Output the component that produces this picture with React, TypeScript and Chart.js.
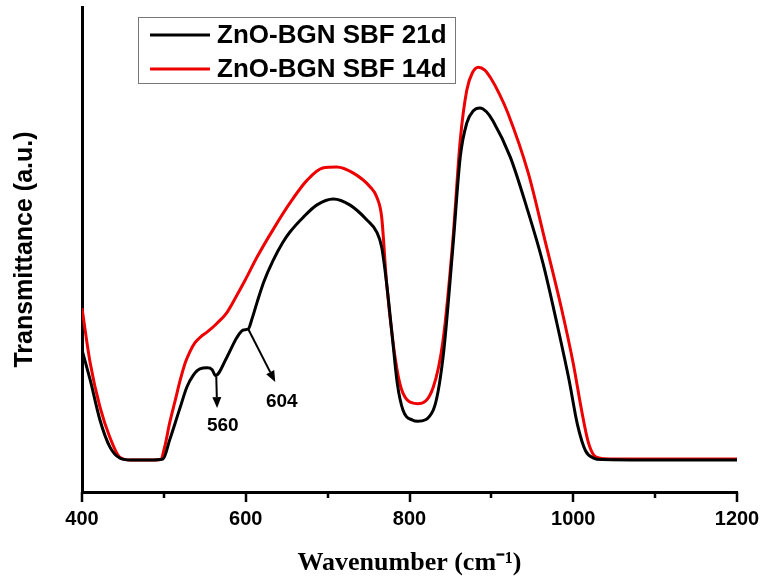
import React, { useEffect, useRef } from 'react';
import { Chart, registerables } from 'chart.js';

Chart.register(...registerables);

const seriesLabels = ['ZnO-BGN SBF 21d', 'ZnO-BGN SBF 14d'];
const seriesColors = ['#000000', '#ee0000'];

const wavenumbers21 = [400, 410, 422, 434, 446, 459, 483, 499, 507, 520, 528, 536, 544, 553, 559, 563, 577, 589, 597, 603, 608, 614, 622, 633, 645, 654, 670, 687, 707, 727, 748, 760, 766, 772, 779, 785, 792, 804, 810, 829, 841, 853, 862, 870, 878, 886, 894, 902, 923, 943, 963, 980, 995, 1005, 1015, 1025, 1035, 1100, 1200];
const transmittance21 = [29.3, 23.1, 14.8, 9.3, 7.0, 6.6, 6.6, 6.8, 10.7, 17.5, 21.6, 24.1, 25.4, 25.6, 25.2, 24.0, 27.8, 31.8, 33.4, 33.6, 35.9, 39.2, 43.3, 47.6, 51.4, 53.6, 56.6, 59.2, 60.4, 59.2, 56.1, 53.6, 50.5, 43.1, 32.0, 22.5, 16.9, 14.8, 14.6, 16.9, 27.8, 50.5, 69.1, 76.1, 78.6, 79.2, 78.4, 76.5, 69.1, 58.8, 47.2, 34.8, 23.0, 14.0, 8.5, 7.0, 6.7, 6.6, 6.6];

const wavenumbers14 = [400, 410, 422, 434, 446, 459, 483, 496, 501, 507, 514, 520, 526, 532, 538, 545, 553, 565, 577, 589, 599, 614, 633, 654, 675, 694, 711, 731, 752, 760, 766, 772, 780, 788, 797, 810, 829, 841, 853, 862, 870, 877, 884, 892, 899, 910, 920, 945, 965, 985, 1000, 1010, 1018, 1025, 1032, 1045, 1100, 1200];
const transmittance14 = [37.9, 26.6, 17.5, 11.3, 7.2, 6.6, 6.6, 6.7, 9.3, 14.2, 19.0, 23.1, 26.6, 29.0, 30.8, 32.0, 33.0, 34.8, 37.0, 40.5, 43.6, 48.5, 54.0, 59.6, 64.3, 66.8, 67.0, 65.8, 62.9, 60.8, 56.7, 43.1, 30.7, 22.5, 19.0, 18.2, 21.6, 31.3, 52.0, 72.6, 82.9, 86.5, 87.6, 87.0, 85.4, 82.0, 78.2, 65.8, 52.2, 38.3, 26.5, 17.0, 10.5, 7.6, 7.0, 6.8, 6.8, 6.8];

const xMin = 400;
const xMax = 1200;
const xMajorStep = 200;
const xMinorStep = 100;

const peakLabels = ['560', '604'];
// arrow start (on curve), arrow end, and label anchor, in data units [wavenumber, transmittance]
const peakArrowStarts = [[564, 23.8], [603, 33.6]];
const peakArrowEnds = [[565, 17.3], [636, 22.7]];
const peakLabelAnchors = [[572, 13.6], [644, 18.6]];

const xTitle = 'Wavenumber (cm\u207B\u00B9)';
const yTitle = 'Transmittance (a.u.)';

const SANS = '"Liberation Sans", Arial, Helvetica, sans-serif';
const SERIF = '"Liberation Serif", "Times New Roman", Times, serif';

function toPoints(xs: number[], ys: number[]) {
  return xs.map((x, i) => ({ x, y: ys[i] }));
}

const extrasPlugin = {
  id: 'extras',
  afterDraw(chart: any) {
    const ctx = chart.ctx as CanvasRenderingContext2D;
    const xs = chart.scales.x;
    const ys = chart.scales.y;
    const area = chart.chartArea;
    ctx.save();
    // x-axis tick marks (outward)
    ctx.strokeStyle = '#000';
    ctx.lineWidth = 2.5;
    for (let v = xMin; v <= xMax; v += xMinorStep) {
      const px = Math.round(xs.getPixelForValue(v));
      const len = v % xMajorStep === 0 ? 10 : 6;
      ctx.beginPath();
      ctx.moveTo(px, area.bottom);
      ctx.lineTo(px, area.bottom + len);
      ctx.stroke();
    }

    // peak arrows
    peakLabels.forEach((lab, i) => {
      const x0 = xs.getPixelForValue(peakArrowStarts[i][0]);
      const y0 = ys.getPixelForValue(peakArrowStarts[i][1]);
      const x1 = xs.getPixelForValue(peakArrowEnds[i][0]);
      const y1 = ys.getPixelForValue(peakArrowEnds[i][1]);
      const ang = Math.atan2(y1 - y0, x1 - x0);
      const headLen = 11;
      const headW = 4.5;
      const bx = x1 - headLen * Math.cos(ang);
      const by = y1 - headLen * Math.sin(ang);
      ctx.strokeStyle = '#000';
      ctx.lineWidth = 2;
      ctx.beginPath();
      ctx.moveTo(x0, y0);
      ctx.lineTo(bx, by);
      ctx.stroke();
      ctx.fillStyle = '#000';
      ctx.beginPath();
      ctx.moveTo(x1, y1);
      ctx.lineTo(bx + headW * Math.sin(ang), by - headW * Math.cos(ang));
      ctx.lineTo(bx - headW * Math.sin(ang), by + headW * Math.cos(ang));
      ctx.closePath();
      ctx.fill();
      ctx.font = 'bold 19px ' + SANS;
      ctx.textAlign = 'center';
      ctx.textBaseline = 'middle';
      ctx.fillText(lab, xs.getPixelForValue(peakLabelAnchors[i][0]), ys.getPixelForValue(peakLabelAnchors[i][1]));
    });

    // legend box
    const bx0 = area.left + 56;
    const by0 = area.top + 10;
    const bw = 317;
    const bh = 66;
    ctx.fillStyle = '#fff';
    ctx.fillRect(bx0, by0, bw, bh);
    ctx.strokeStyle = '#777';
    ctx.lineWidth = 1;
    ctx.strokeRect(bx0 + 0.5, by0 + 0.5, bw, bh);
    seriesLabels.forEach((lab, i) => {
      const cy = by0 + 18 + i * 34;
      ctx.strokeStyle = seriesColors[i];
      ctx.lineWidth = 3;
      ctx.beginPath();
      ctx.moveTo(bx0 + 12, cy);
      ctx.lineTo(bx0 + 72, cy);
      ctx.stroke();
      ctx.fillStyle = '#000';
      ctx.font = 'bold 26px ' + SANS;
      ctx.textAlign = 'left';
      ctx.textBaseline = 'middle';
      ctx.fillText(lab, bx0 + 79, cy + 1);
    });
    ctx.restore();
  },
};

export default function App() {
  const canvasRef = useRef<HTMLCanvasElement | null>(null);

  useEffect(() => {
    if (!canvasRef.current) return;
    Chart.defaults.color = '#000';
    const chart = new Chart(canvasRef.current, {
      type: 'line',
      data: {
        datasets: [
          {
            label: seriesLabels[0],
            data: toPoints(wavenumbers21, transmittance21),
            borderColor: seriesColors[0],
            borderWidth: 3,
            pointRadius: 0,
            cubicInterpolationMode: 'monotone',
            fill: false,
          },
          {
            label: seriesLabels[1],
            data: toPoints(wavenumbers14, transmittance14),
            borderColor: seriesColors[1],
            borderWidth: 3,
            pointRadius: 0,
            cubicInterpolationMode: 'monotone',
            fill: false,
          },
        ],
      },
      options: {
        animation: false,
        responsive: true,
        maintainAspectRatio: false,
        layout: { padding: { left: 0, top: 7, right: 27, bottom: 0 } },
        plugins: {
          legend: { display: false },
          tooltip: { enabled: false },
        },
        scales: {
          x: {
            type: 'linear',
            min: xMin,
            max: xMax,
            grid: { display: false, drawTicks: false },
            border: { display: true, color: '#000', width: 3 },
            ticks: {
              stepSize: xMinorStep,
              padding: 15,
              maxRotation: 0,
              autoSkip: false,
              font: { family: SANS, size: 20, weight: 'bold' },
              callback: (v: any) => (Number(v) % xMajorStep === 0 ? String(v) : ''),
            },
            title: {
              display: true,
              text: xTitle,
              font: { family: SERIF, size: 26, weight: 'bold' },
              padding: { top: 0, bottom: 2 },
            },
            afterFit: (s: any) => {
              s.height = 89;
              s.paddingLeft = 0;
              s.paddingRight = 0;
            },
          },
          y: {
            min: 0,
            max: 100,
            grid: { display: false, drawTicks: false },
            border: { display: true, color: '#000', width: 3 },
            ticks: { display: false },
            title: {
              display: true,
              text: yTitle,
              font: { family: SANS, size: 25, weight: 'bold' },
              padding: { top: 10, bottom: 0 },
            },
            afterFit: (s: any) => {
              s.width = 82;
              s.paddingTop = 0;
              s.paddingBottom = 0;
            },
          },
        },
      },
      plugins: [extrasPlugin],
    } as any);
    return () => chart.destroy();
  }, []);

  return (
    <div style={{ position: 'absolute', left: 0, top: 0, width: 764, height: 581, background: '#fff' }}>
      <canvas ref={canvasRef} />
    </div>
  );
}
